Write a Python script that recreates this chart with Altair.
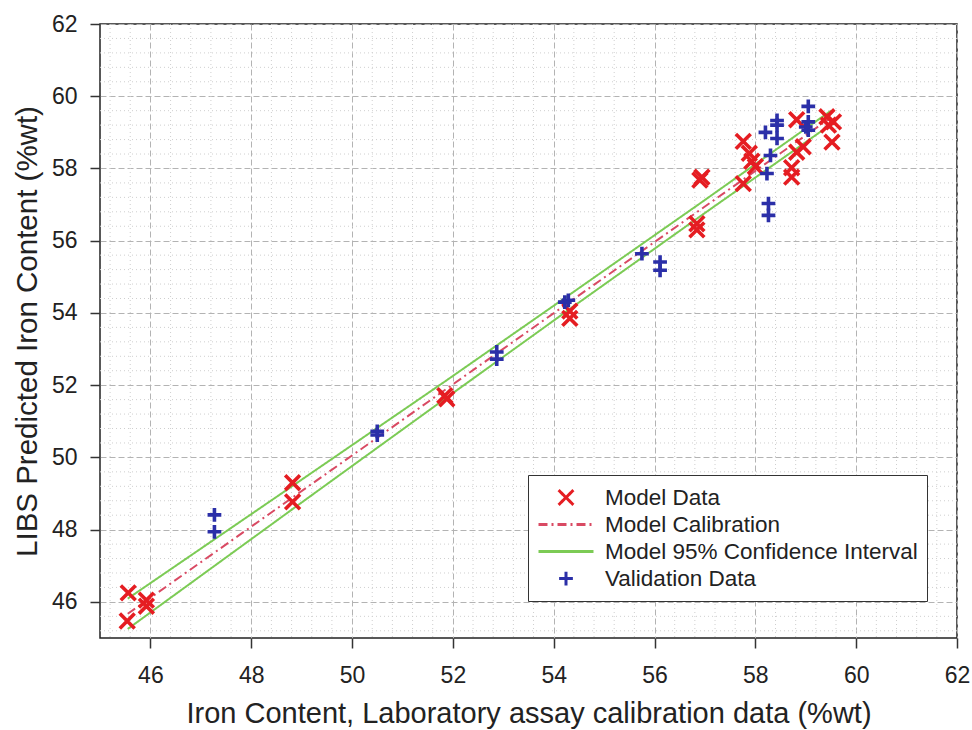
import altair as alt
import numpy as np
import pandas as pd

# ---------------- data ----------------
model_x = [45.56, 45.92, 45.92, 45.54, 48.82, 48.82, 51.84, 51.88, 54.32, 54.32,
           56.84, 56.84, 56.94, 56.90, 57.76, 57.76, 57.88, 57.93, 58.00,
           58.72, 58.72, 58.82, 58.95, 58.82, 59.42, 59.55, 59.45, 59.52]
model_y = [46.25, 46.05, 45.88, 45.47, 49.30, 48.77, 51.71, 51.62, 54.05, 53.85,
           56.47, 56.30, 57.76, 57.68, 58.75, 57.58, 58.42, 58.20, 58.05,
           57.76, 58.02, 58.45, 58.60, 59.35, 59.43, 59.29, 59.20, 58.73]

valid_x = [47.27, 47.27, 50.50, 50.50, 52.87, 52.87, 54.29, 54.22, 55.75, 56.11, 56.11,
           58.20, 58.43, 58.43, 58.43, 58.30, 58.23, 58.26, 58.26, 59.05, 59.05, 59.05, 59.00]
valid_y = [48.41, 47.94, 50.72, 50.62, 52.92, 52.72, 54.35, 54.30, 55.64, 55.41, 55.18,
           59.00, 59.33, 59.20, 58.83, 58.36, 57.86, 57.03, 56.70, 59.72, 59.29, 59.06, 59.15]

calib_x = [45.55, 59.50]
calib_y = [45.67, 59.41]

ci_x = [45.55, 48.85, 51.85, 54.35, 56.90, 59.50]
ci_upper = [46.09, 49.24, 52.11, 54.54, 57.03, 59.60]
ci_lower = [45.25, 48.60, 51.63, 54.14, 56.67, 59.22]

x_ticks = [46, 48, 50, 52, 54, 56, 58, 60, 62]
y_ticks = [46, 48, 50, 52, 54, 56, 58, 60, 62]
axis_min, axis_max = 45, 62

series = ["Model Data", "Model Calibration", "Model 95% Confidence Interval", "Validation Data"]
series_colors = ["#e51d22", "#d94a63", "#7ccb55", "#2b2fa8"]
X_PATH = "M-0.27,-0.27L0.27,0.27M-0.27,0.27L0.27,-0.27"
LINE_PATH = "M-1,0L1,0"
PLUS_PATH = "M-0.25,0L0.25,0M0,-0.25L0,0.25"
series_shapes = [X_PATH, LINE_PATH, LINE_PATH, PLUS_PATH]
series_dash = [[1, 0], [9, 4, 2, 4], [1, 0], [1, 0]]

# minor grid positions (every 0.4, excluding majors)
minor = [round(v, 1) for v in np.arange(45.2, 62.0, 0.4)]
minor = [v for v in minor if abs(v / 2 - round(v / 2)) > 1e-6]

# ---------------- tables ----------------
pts = pd.DataFrame({
    "x": model_x + valid_x,
    "y": model_y + valid_y,
    "series": ["Model Data"] * len(model_x) + ["Validation Data"] * len(valid_x),
    "ord": [0] * len(model_x) + [1] * len(valid_x),
})
lines = pd.DataFrame({
    "x": calib_x + ci_x + ci_x,
    "y": calib_y + ci_upper + ci_lower,
    "series": ["Model Calibration"] * len(calib_x) + ["Model 95% Confidence Interval"] * (2 * len(ci_x)),
    "part": ["c"] * len(calib_x) + ["u"] * len(ci_x) + ["l"] * len(ci_x),
})
minor_df = pd.DataFrame({"v": minor})

FONT = "Liberation Sans"
TXT = "#222222"

xscale = alt.Scale(domain=[axis_min, axis_max], nice=False, zero=False)
yscale = alt.Scale(domain=[axis_min, axis_max], nice=False, zero=False)

x_axis = alt.Axis(
    values=x_ticks, title="Iron Content, Laboratory assay calibration data (%wt)",
    grid=True, gridColor="#b3b3b3", gridDash=[6, 3], gridWidth=1,
    domain=False, ticks=True, tickSize=10, tickColor="#333333", tickWidth=1.5,
    labelFont=FONT, labelFontSize=23, labelColor=TXT, labelPadding=16, labelFlush=False,
    titleFont=FONT, titleFontSize=29, titleFontWeight="normal", titleColor=TXT,
    titleBaseline="alphabetic", titleY=84,
)
y_axis = alt.Axis(
    values=y_ticks, title="LIBS Predicted Iron Content (%wt)",
    grid=True, gridColor="#b3b3b3", gridDash=[6, 3], gridWidth=1,
    domain=False, ticks=True, tickSize=10, tickColor="#333333", tickWidth=1.5,
    labelFont=FONT, labelFontSize=23, labelColor=TXT, labelPadding=13, labelFlush=False,
    titleFont=FONT, titleFontSize=29.5, titleFontWeight="normal", titleColor=TXT,
    titleBaseline="alphabetic", titleX=-64,
)

color_enc = alt.Color("series:N", scale=alt.Scale(domain=series, range=series_colors),
                      legend=alt.Legend(title=None))
shape_enc = alt.Shape("series:N", scale=alt.Scale(domain=series, range=series_shapes),
                      legend=alt.Legend(title=None))
dash_enc = alt.StrokeDash("series:N", scale=alt.Scale(domain=series, range=series_dash),
                          legend=alt.Legend(title=None))

base_grid = alt.Chart(minor_df)
vminor = base_grid.mark_rule(color="#cfcfcf", strokeDash=[1, 3], strokeWidth=1).encode(
    x=alt.X("v:Q", scale=xscale, axis=x_axis)
)
hminor = base_grid.mark_rule(color="#cfcfcf", strokeDash=[1, 3], strokeWidth=1).encode(
    y=alt.Y("v:Q", scale=yscale, axis=y_axis)
)

line_layer = alt.Chart(lines).mark_line(strokeWidth=2).encode(
    x=alt.X("x:Q", scale=xscale, axis=x_axis),
    y=alt.Y("y:Q", scale=yscale, axis=y_axis),
    color=color_enc,
    strokeDash=dash_enc,
    detail="part:N",
)

point_layer = alt.Chart(pts).mark_point(filled=False, size=3025, strokeWidth=3.6, opacity=1).encode(
    x=alt.X("x:Q", scale=xscale, axis=x_axis),
    y=alt.Y("y:Q", scale=yscale, axis=y_axis),
    color=color_enc,
    shape=shape_enc,
    order=alt.Order("ord:Q"),
)

chart = alt.layer(vminor, hminor, line_layer, point_layer).properties(
    width=857, height=614,
    autosize=alt.AutoSizeParams(type="none"),
    padding={"left": 100, "top": 24, "right": 15, "bottom": 92},
    background="white",
).configure_view(
    stroke="#222222", strokeWidth=1.5
).configure_legend(
    orient="none", legendX=428, legendY=451,
    padding=9, strokeColor="#333333", fillColor="white",
    labelFont=FONT, labelFontSize=22.5, labelColor=TXT, labelLimit=0,
    symbolSize=3025, symbolStrokeWidth=3, clipHeight=27, rowPadding=0,
    labelOffset=10, cornerRadius=0,
)

chart.save("out.html", embed_options={"renderer": "svg", "actions": False})
